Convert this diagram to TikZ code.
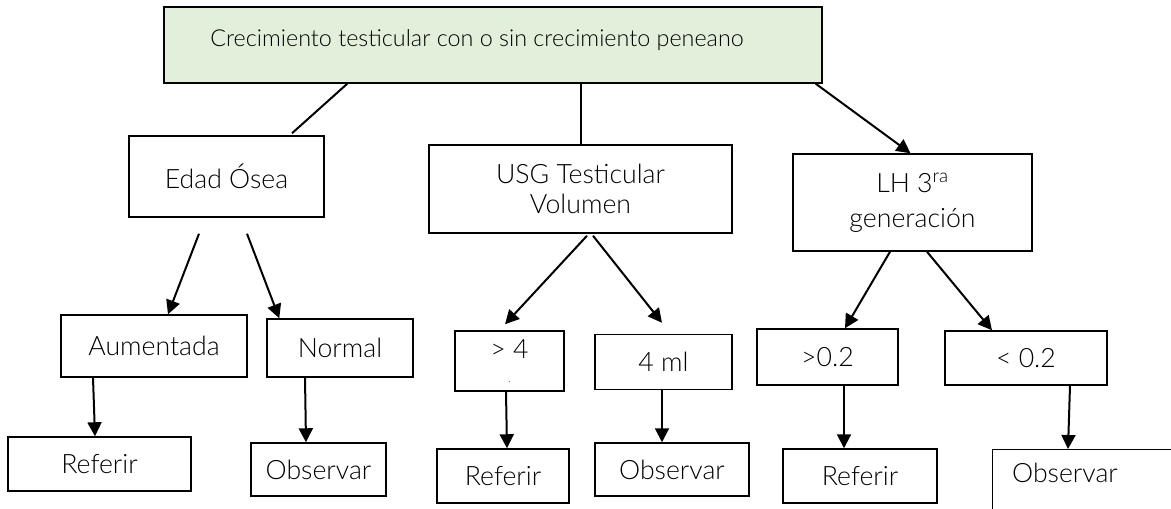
\documentclass[tikz,border=0pt]{standalone}
\usepackage{fontspec}
\setmainfont{Lato Light}
\usetikzlibrary{calc,arrows.meta}
\definecolor{Sage}{HTML}{E2EFDA}

\begin{document}
\begin{tikzpicture}[x=0.75pt,y=-0.75pt,
  box/.style={draw,line width=1.1pt,inner sep=0pt,align=center,font=\fontsize{20}{23}\selectfont},
  tip/.style={-{Triangle[length=10.5pt,width=10.5pt]},line width=1.5pt},
  bare/.style={line width=1.5pt}]
\useasboundingbox (0,0) rectangle (1171,508);
% top of the tree
\node[box,fill=Sage,minimum width=493.5pt,minimum height=57pt,text depth=11pt,font=\fontsize{17.5}{20}\selectfont] (top) at (493,45) {Crecimiento testicular con o sin crecimiento peneano\hspace*{24pt}};
% three studies
\node[box,minimum width=146.25pt,minimum height=60.75pt] (edad) at (226.5,176.5) {Edad Ósea};
\node[box,minimum width=227.25pt,minimum height=66pt] (usg) at (580.5,189) {USG Testicular\\Volumen};
\node[box,minimum width=179.25pt,minimum height=72.75pt] (lh) at (912.5,202.5) {LH 3\textsuperscript{ra}\\[3pt]generación};
% results
\node[box,minimum width=139.5pt,minimum height=46.5pt] (aum) at (154,346) {Aumentada};
\node[box,minimum width=109.5pt,minimum height=43.5pt] (normal) at (340,348) {Normal};
\node[box,minimum width=81.75pt,minimum height=45pt] (gtfour) at (509.5,361) {> 4\\[-5pt]{\scriptsize .}};
\node[box,minimum width=102.75pt,minimum height=41.25pt] (fourml) at (663.5,362) {4 ml};
\node[box,minimum width=105.75pt,minimum height=42pt] (gtlh) at (827.5,357) {>0.2};
\node[box,minimum width=121.5pt,minimum height=40.5pt] (ltlh) at (1026,358) {< 0.2};
% actions
\node[box,minimum width=137.25pt,minimum height=40.5pt] (refA) at (99.5,464) {Referir};
\node[box,minimum width=101.25pt,minimum height=39.75pt] (obsA) at (318.5,469.5) {Observar};
\node[box,minimum width=99pt,minimum height=40.5pt] (refB) at (503,476) {Referir};
\node[box,minimum width=115.5pt,minimum height=39.75pt] (obsB) at (672,469.5) {Observar};
\node[box,minimum width=115.5pt,minimum height=40.5pt] (refC) at (860,476) {Referir};
\node[box,anchor=north west,minimum width=146.25pt,minimum height=60pt] (obsC) at (992,449) {};
\node[font=\fontsize{20}{23}\selectfont] (obsCtext) at ($(obsC.north west)+(73,24)$) {Observar};
% links from the top
\draw[bare] ($(top.south west)+(184,0)$) -- ($(edad.north)+(65.5,-2)$);
\draw[bare] (top.south -| usg.north) -- (usg.north);
\draw[tip] ($(top.south east)+(-7,0)$) -- ($(lh.north)+(-2,0)$);
% second level
\draw[tip] ($(edad.south)+(-27.5,16)$) -- ($(aum.north)+(14,0)$);
\draw[tip] ($(edad.south)+(20.5,16)$) -- ($(normal.north west)+(13,0)$);
\draw[tip] ($(usg.south)+(6.5,2)$) -- ($(gtfour.north)+(-4.5,-6)$);
\draw[tip] ($(usg.south)+(12.5,2)$) -- ($(fourml.north)+(-1.5,-11)$);
\draw[tip] ($(lh.south)+(-22.5,0)$) -- ($(gtlh.north)+(17.5,0)$);
\draw[tip] ($(lh.south)+(14.5,0)$) -- ($(ltlh.north)+(-34,0)$);
% last level
\draw[tip] ($(aum.south)+(-61,0)$) -- ($(refA.north)+(-4.5,0)$);
\draw[tip] ($(normal.south)+(-35,0)$) -- ($(obsA.north)+(-12.5,0)$);
\draw[tip] ($(gtfour.south)+(-3.5,0)$) -- ($(refB.north)+(4,0)$);
\draw[tip] ($(fourml.south)+(-1.5,0)$) -- ($(obsB.north)+(-10,0)$);
\draw[tip] ($(gtlh.south)+(16.5,0)$) -- ($(refC.north)+(-16,0)$);
\draw[tip] ($(ltlh.south)+(44,0)$) -- ($(obsC.north west)+(76,0)$);
\end{tikzpicture}
\end{document}
